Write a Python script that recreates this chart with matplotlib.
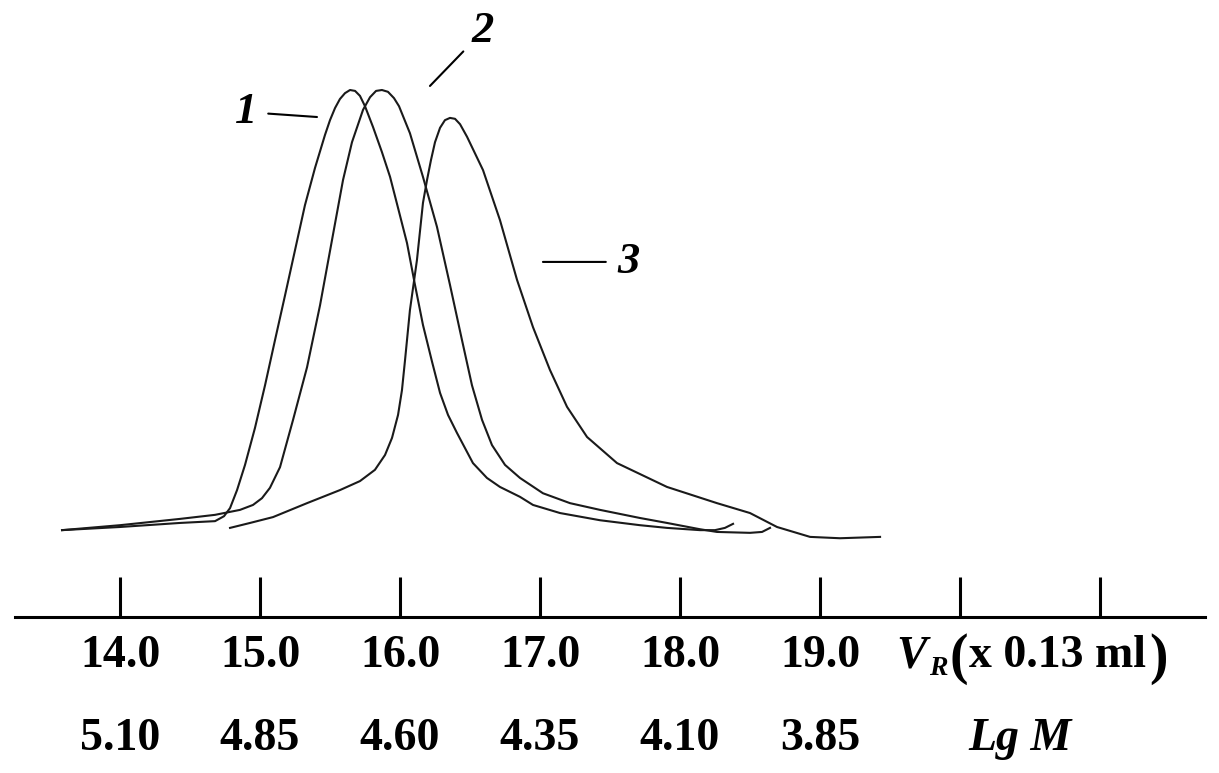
import matplotlib
matplotlib.use("Agg")
import matplotlib.pyplot as plt

# retention volume (x 0.13 ml) and detector signal
v1 = [13.586, 14.0, 14.429, 14.679, 14.743, 14.786, 14.836, 14.893, 14.964, 15.036,
      15.107, 15.179, 15.25, 15.321, 15.393, 15.464, 15.5, 15.536, 15.571, 15.607,
      15.643, 15.679, 15.714, 15.75, 15.807, 15.871, 15.929, 15.986, 16.05, 16.107,
      16.164, 16.229, 16.286, 16.343, 16.407, 16.521, 16.621, 16.714, 16.857, 16.95,
      17.143, 17.429, 17.714, 17.907, 18.143, 18.25, 18.321, 18.379]
s1 = [2.2, 2.9, 3.8, 4.2, 5.3, 7.1, 11.1, 16.7, 24.9, 34.4,
      44.4, 54.4, 64.4, 74.4, 82.7, 90.0, 93.3, 96.0, 98.0, 99.3,
      100.0, 99.8, 98.7, 96.4, 91.8, 86.2, 80.7, 73.8, 66.0, 56.7,
      47.8, 39.6, 32.7, 27.8, 23.8, 17.1, 13.8, 11.8, 9.6, 7.8,
      6.0, 4.4, 3.3, 2.7, 2.2, 2.2, 2.7, 3.6]

v2 = [13.586, 14.0, 14.429, 14.679, 14.857, 14.95, 15.014, 15.071, 15.143, 15.236,
      15.336, 15.429, 15.521, 15.593, 15.657, 15.736, 15.786, 15.829, 15.871, 15.914,
      15.957, 15.993, 16.071, 16.164, 16.264, 16.357, 16.443, 16.514, 16.586, 16.657,
      16.75, 16.857, 17.021, 17.214, 17.429, 17.714, 17.907, 18.143, 18.264, 18.5,
      18.586, 18.643]
s2 = [2.2, 3.3, 4.7, 5.6, 6.7, 7.8, 9.3, 11.6, 16.2, 26.7,
      38.4, 52.2, 67.8, 80.0, 88.4, 95.6, 98.4, 99.8, 100.0, 99.6,
      98.2, 96.4, 90.4, 80.7, 69.6, 56.7, 44.4, 34.4, 26.7, 21.1,
      16.7, 13.8, 10.4, 8.2, 6.7, 4.9, 3.8, 2.4, 1.8, 1.6,
      1.8, 2.7]

v3 = [14.786, 14.929, 15.093, 15.336, 15.571, 15.714, 15.821, 15.893, 15.943, 15.986,
      16.014, 16.036, 16.071, 16.121, 16.164, 16.193, 16.221, 16.25, 16.286, 16.321,
      16.357, 16.393, 16.429, 16.479, 16.593, 16.714, 16.836, 16.95, 17.071, 17.193,
      17.336, 17.55, 17.907, 18.264, 18.5, 18.693, 18.929, 19.143, 19.429]
s3 = [2.7, 3.8, 5.1, 8.2, 11.1, 13.1, 15.6, 18.9, 22.7, 27.8,
      33.3, 40.0, 51.1, 62.2, 74.9, 80.0, 84.4, 88.4, 91.6, 93.3,
      93.8, 93.6, 92.4, 89.6, 82.2, 71.1, 57.8, 47.3, 37.8, 29.6,
      22.9, 17.1, 11.8, 8.2, 6.0, 2.9, 0.7, 0.4, 0.7]

vr_ticks = [14.0, 15.0, 16.0, 17.0, 18.0, 19.0, 20.0, 21.0]
vr_labels = ["14.0", "15.0", "16.0", "17.0", "18.0", "19.0", "", ""]
lgm_labels = ["5.10", "4.85", "4.60", "4.35", "4.10", "3.85"]

W, H = 1219, 773
fig = plt.figure(figsize=(W / 100, H / 100), dpi=100)
# axis line sits at y=617 px and runs from x=15 to x=1205 px
ax = fig.add_axes([15 / W, (H - 617) / H, 1190 / W, 617 / H])
ax.set_xlim(13.25, 21.75)
ax.set_ylim(-17.1, 120)

for v, s in [(v1, s1), (v2, s2), (v3, s3)]:
    ax.plot(v, s, color="#1a1a1a", lw=1.5, solid_joinstyle="round")

for side in ["top", "left", "right"]:
    ax.spines[side].set_visible(False)
ax.spines["bottom"].set_linewidth(2.2)
ax.set_yticks([])
ax.set_xticks(vr_ticks)
ax.set_xticklabels(vr_labels, fontfamily="Liberation Serif", fontweight="bold", fontsize=33)
ax.tick_params(axis="x", direction="in", length=29, width=2.2, pad=13)

serif = dict(fontfamily="Liberation Serif", fontweight="bold")

# second row: log of molecular mass
for v, lab in zip(vr_ticks, lgm_labels):
    ax.text(v, -0.2156, lab, transform=ax.get_xaxis_transform(), ha="center", va="baseline",
            fontsize=33, **serif)
ax.text(20.43, -0.2156, "Lg M", transform=ax.get_xaxis_transform(), ha="center",
        va="baseline", fontstyle="italic", fontsize=33, **serif)

# axis caption V_R (x 0.13 ml)
fig.text(896 / W, 1 - 667 / H, "V", fontstyle="italic", fontsize=33, va="baseline", **serif)
fig.text(929 / W, 1 - 675 / H, "R", fontstyle="italic", fontsize=20, va="baseline", **serif)
fig.text(950 / W, 1 - 673 / H, "(", fontsize=40, va="baseline", **serif)
fig.text(969 / W, 1 - 667 / H, "x 0.13 ml", fontsize=33, va="baseline", **serif)
fig.text(1149 / W, 1 - 673 / H, ")", fontsize=40, va="baseline", **serif)

# curve labels
lab = dict(fontfamily="Liberation Serif", fontweight="bold", fontstyle="italic", fontsize=32,
           ha="center", va="center")
line = dict(arrowstyle="-", color="black", lw=1.5, shrinkA=6, shrinkB=0)
ax.annotate("1", xy=(15.407, 94.0), xytext=(14.9, 95.1), arrowprops=line, **lab)
ax.annotate("2", xy=(16.214, 100.9), xytext=(16.593, 113.1), arrowprops=line, **lab)
ax.annotate("3", xy=(17.021, 61.8), xytext=(17.629, 61.8), arrowprops=line, **lab)

fig.savefig("out.png", dpi=100)
